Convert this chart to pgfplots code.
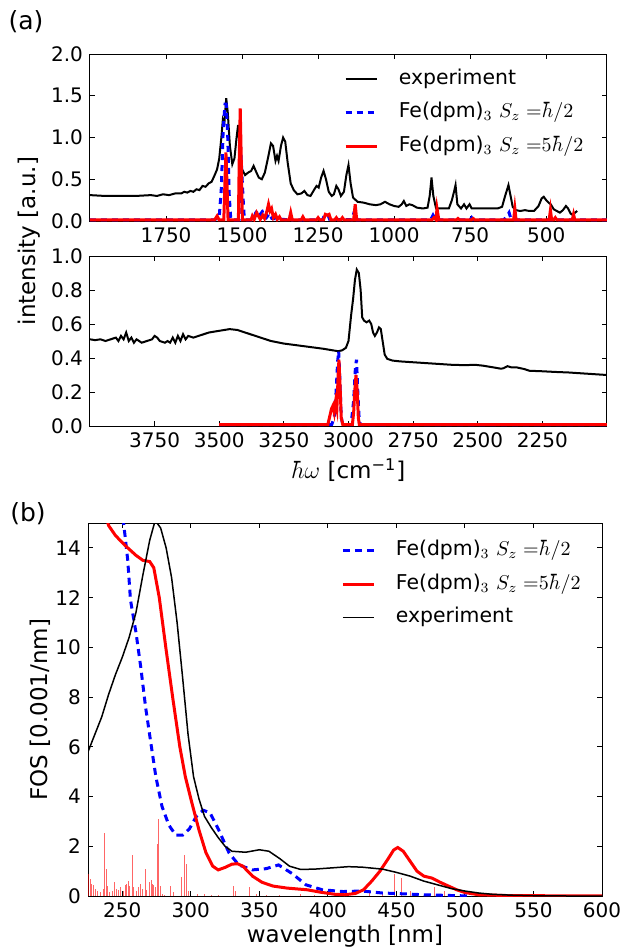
\documentclass[border=0pt]{standalone}
\usepackage{fontspec}
\setmainfont{DejaVu Sans}
\usepackage{pgfplots}
\pgfplotsset{compat=1.18}
\definecolor{mplblue}{rgb}{0,0,1}
\definecolor{mplred}{rgb}{1,0,0}
\pgfplotsset{
 myaxis/.style={
  scale only axis, anchor=north west,
  axis line style={black, line width=0.5pt},
  every tick/.style={black, line width=0.5pt},
  major tick length=2.5pt,
  tick align=inside, xtick pos=both, ytick pos=both,
  ticklabel style={font=\fontsize{10}{11.5}\selectfont},
  /pgf/number format/assume math mode=true,
  /pgf/number format/1000 sep={},
  legend cell align=left,
 },
 mylegend/.style={legend style={draw=none, fill=none, inner sep=0pt,
   font=\fontsize{10.2}{12}\selectfont,
   nodes={inner sep=0pt, text height=7.5pt, text depth=2.5pt},
   row sep=6.75pt,
   /tikz/every odd column/.append style={column sep=10.3pt}}},
 expA/.style={black, line width=1pt},
 blueA/.style={mplblue, line width=1.5pt, dash pattern=on 3pt off 2.5pt},
 redA/.style={mplred, line width=1.5pt},
}
\begin{document}
\begin{tikzpicture}
\useasboundingbox (0,0) rectangle (311.5pt,-474.5pt);
% ---------------- top panel ----------------
\begin{axis}[myaxis, mylegend, at={(45pt,-27pt)}, width=258.5pt, height=83.5pt,
  xmin=300, xmax=2000, x dir=reverse, ymin=0, ymax=2,
  xtick={500,750,1000,1250,1500,1750}, ytick={0,0.5,1,1.5,2},
  yticklabel style={/pgf/number format/.cd, fixed, fixed zerofill, precision=1},
  legend style={at={(0.491,0.91)}, anchor=north west},
  legend image code/.code={\draw[#1] (0pt,0pt) -- (15.5pt,0pt);}]
\addplot[expA] table {
2000 0.31
1950 0.30
1900 0.30
1850 0.30
1800 0.31
1780 0.30
1760 0.32
1740 0.31
1720 0.33
1700 0.33
1690 0.35
1680 0.34
1670 0.36
1660 0.35
1650 0.38
1640 0.37
1630 0.42
1620 0.41
1610 0.45
1600 0.47
1590 0.55
1582 0.62
1575 0.75
1568 1.0
1563 1.22
1558 1.18
1552 1.47
1547 1.3
1540 0.9
1532 0.68
1525 0.75
1518 1.0
1513 1.15
1507 0.85
1500 0.62
1490 0.55
1480 0.58
1470 0.6
1462 0.66
1455 0.6
1445 0.52
1435 0.5
1425 0.58
1415 0.75
1405 0.93
1398 0.9
1390 0.72
1385 0.78
1380 0.72
1372 0.9
1365 1.0
1358 0.95
1350 0.7
1340 0.45
1330 0.37
1318 0.32
1305 0.33
1295 0.36
1285 0.31
1275 0.3
1262 0.38
1255 0.42
1248 0.4
1240 0.52
1232 0.6
1224 0.5
1215 0.35
1205 0.3
1198 0.32
1190 0.42
1183 0.38
1175 0.3
1165 0.35
1157 0.55
1150 0.67
1143 0.45
1135 0.28
1120 0.23
1100 0.22
1080 0.2
1060 0.19
1045 0.2
1030 0.23
1015 0.2
1000 0.18
985 0.17
975 0.2
968 0.24
960 0.18
950 0.2
940 0.19
925 0.16
905 0.15
890 0.16
883 0.3
877 0.52
871 0.3
862 0.15
840 0.15
820 0.15
810 0.25
803 0.35
798 0.43
792 0.2
780 0.15
770 0.2
762 0.15
752 0.2
745 0.15
720 0.15
700 0.15
680 0.15
660 0.15
645 0.17
635 0.3
624 0.43
617 0.3
610 0.17
600 0.13
585 0.12
570 0.13
555 0.12
540 0.12
525 0.18
515 0.27
508 0.29
500 0.25
492 0.22
485 0.2
475 0.14
465 0.12
455 0.1
445 0.13
435 0.18
428 0.15
420 0.09
412 0.07
405 0.1
398 0.12
};
\addlegendentry{experiment}
\addplot[blueA] table {
2000 0.015
1590 0.015
1575 0.05
1568 0.4
1562 1.1
1556 1.4
1552 1.4
1547 1.0
1542 0.3
1537 0.015
1510 0.015
1505 0.9
1501 0.6
1497 0.3
1493 0.05
1488 0.015
1462 0.015
1455 0.1
1447 0.13
1440 0.08
1432 0.12
1425 0.13
1418 0.05
1410 0.09
1402 0.03
1350 0.015
1342 0.06
1335 0.015
1235 0.015
1228 0.08
1220 0.09
1212 0.02
1140 0.015
1130 0.12
1122 0.015
880 0.015
872 0.07
864 0.015
750 0.015
745 0.04
740 0.015
700 0.015
695 0.03
690 0.015
640 0.015
632 0.04
622 0.1
615 0.02
610 0.015
300 0.015
};
\addlegendentry{Fe(dpm)$_3$ $S_z\;{=}\hbar/2$}
\addplot[redA] table {
2000 0.015
1590 0.015
1582 0.06
1576 0.015
1560 0.015
1556 0.5
1553 0.82
1550 0.5
1546 0.015
1512 0.015
1509 0.8
1506 1.35
1503 0.8
1499 0.015
1470 0.015
1466 0.06
1460 0.02
1452 0.1
1446 0.06
1440 0.02
1432 0.07
1426 0.03
1418 0.12
1413 0.2
1408 0.12
1403 0.15
1397 0.04
1390 0.08
1384 0.02
1377 0.05
1372 0.015
1345 0.015
1340 0.1
1335 0.015
1305 0.015
1300 0.05
1295 0.015
1255 0.015
1250 0.04
1245 0.015
1232 0.015
1226 0.08
1220 0.07
1214 0.08
1208 0.015
1195 0.015
1190 0.04
1185 0.015
1175 0.015
1170 0.04
1165 0.015
1133 0.015
1128 0.2
1123 0.015
875 0.015
869 0.04
862 0.015
859 0.15
853 0.015
795 0.015
790 0.03
785 0.015
745 0.015
740 0.03
735 0.015
607 0.015
603 0.15
599 0.015
490 0.015
486 0.13
482 0.015
475 0.015
470 0.04
465 0.015
414 0.015
410 0.08
406 0.015
300 0.015
};
\addlegendentry{Fe(dpm)$_3$ $S_z\;{=}5\hbar/2$}
\end{axis}
% ---------------- middle panel ----------------
\begin{axis}[myaxis, at={(45pt,-128pt)}, width=258.5pt, height=85pt,
  xmin=2000, xmax=4000, x dir=reverse, ymin=0, ymax=1,
  xtick={2250,2500,2750,3000,3250,3500,3750}, ytick={0,0.2,0.4,0.6,0.8,1},
  yticklabel style={/pgf/number format/.cd, fixed, fixed zerofill, precision=1}]
\addplot[expA] table {
4000 0.51
3980 0.505
3960 0.51
3940 0.50
3920 0.51
3900 0.52
3890 0.50
3880 0.53
3870 0.51
3860 0.55
3850 0.50
3840 0.52
3830 0.49
3820 0.51
3800 0.49
3780 0.50
3760 0.51
3750 0.53
3740 0.52
3730 0.50
3710 0.49
3700 0.50
3690 0.49
3680 0.52
3670 0.49
3660 0.53
3650 0.50
3640 0.54
3630 0.51
3620 0.53
3600 0.52
3580 0.53
3560 0.54
3540 0.55
3500 0.56
3460 0.57
3430 0.565
3400 0.55
3370 0.535
3340 0.52
3300 0.50
3250 0.485
3200 0.475
3150 0.465
3100 0.455
3060 0.445
3040 0.44
3025 0.445
3010 0.46
3000 0.5
2990 0.65
2982 0.75
2975 0.86
2968 0.92
2960 0.9
2953 0.8
2947 0.64
2940 0.62
2930 0.61
2920 0.62
2912 0.6
2905 0.55
2898 0.53
2890 0.55
2882 0.58
2875 0.57
2868 0.5
2860 0.42
2850 0.395
2830 0.385
2800 0.38
2750 0.375
2700 0.37
2650 0.365
2600 0.36
2550 0.358
2510 0.36
2480 0.355
2440 0.345
2410 0.337
2400 0.34
2385 0.352
2370 0.345
2350 0.345
2320 0.335
2300 0.325
2250 0.322
2200 0.318
2150 0.315
2100 0.31
2050 0.305
2000 0.30
};
\addplot[blueA] table {
3500 0.008
3065 0.008
3055 0.05
3048 0.2
3042 0.38
3038 0.44
3034 0.3
3028 0.05
3022 0.008
2990 0.008
2980 0.15
2973 0.35
2969 0.39
2964 0.2
2958 0.02
2950 0.008
2000 0.008
};
\addplot[redA] table {
3500 0.008
3080 0.008
3072 0.06
3066 0.1
3060 0.12
3055 0.08
3050 0.14
3045 0.1
3040 0.3
3037 0.39
3033 0.25
3028 0.05
3022 0.008
2985 0.008
2980 0.08
2976 0.2
2971 0.3
2966 0.2
2962 0.05
2958 0.008
2000 0.008
};
\end{axis}
% ---------------- bottom panel ----------------
\begin{axis}[myaxis, mylegend, at={(44pt,-261.5pt)}, width=257pt, height=186.5pt,
  xmin=225, xmax=600, ymin=0, ymax=15,
  xtick={250,300,350,400,450,500,550,600}, ytick={0,2,4,6,8,10,12,14},
  legend style={at={(0.492,0.954)}, anchor=north west},
  legend image code/.code={\draw[#1] (0pt,0pt) -- (15.5pt,0pt);}]
\addplot[ycomb, mplred, opacity=0.6, line width=0.45pt, forget plot] table {
225.5 0.9
226.5 0.7
227.5 0.5
229 0.45
230.5 0.3
232 0.2
234 0.15
236 0.3
237.3 2.55
238.5 1.1
239.5 0.4
241 0.15
243 0.2
244.5 0.55
246 0.3
247.5 0.25
249 0.35
250.5 0.2
252 0.45
253 0.5
254.5 0.6
255.5 0.4
257.3 1.65
258.5 0.35
260 0.2
261.5 0.35
263 0.5
264.5 0.3
266.6 1.07
268 0.25
269.5 0.55
271 0.65
272 0.5
273 0.45
274.5 0.35
275.8 2.1
276.3 3.1
277.5 0.4
279 0.1
281 0.05
285.5 0.4
287 0.15
293.5 0.75
295.5 1.65
297 1.3
298.5 0.2
305 0.08
310 0.1
315 0.05
320 0.05
331 0.4
332.5 0.2
342.7 0.37
348 0.1
355 0.05
365 0.05
380 0.08
390 0.05
430 0.15
440 0.1
448.5 0.9
454 0.72
460 0.2
477.5 0.38
485 0.2
};
\addplot[mplblue, line width=1.5pt, dash pattern=on 3.5pt off 2.5pt] table {
250.5 15.2
252 14.5
254 13.5
256 11.9
260 10.6
263.5 9.2
267 7.6
271 6.1
274.5 4.8
279 3.6
284 2.85
289 2.45
294 2.45
299 2.7
304 3.2
309 3.45
314 3.35
320 2.7
328 1.72
335 1.25
345 1.05
355 1.1
364 1.25
374 0.9
384 0.45
396 0.25
411 0.18
425 0.2
440 0.12
450 0.1
470 0.05
490 0.02
505 0.0
};
\addlegendentry{Fe(dpm)$_3$ $S_z\;{=}\hbar/2$}
\addplot[redA] table {
238 15.3
240 14.9
245 14.5
252 14.1
260 13.7
265 13.5
270 13.45
273 13.2
277 12.0
282 9.9
287 7.9
292 6.0
296 4.8
301 3.7
306 2.65
311 1.75
316 1.2
320 1.05
325 1.15
330 1.28
334 1.3
338 1.2
345 0.8
352 0.55
360 0.4
370 0.32
385 0.25
395 0.15
405 0.07
412 0.05
420 0.1
426 0.25
432 0.6
438 1.0
444 1.5
448 1.85
451 1.95
455 1.8
460 1.4
465 1.0
470 0.8
476 0.72
482 0.55
488 0.4
494 0.25
500 0.14
510 0.05
530 0.02
560 0.01
600 0.01
};
\addlegendentry{Fe(dpm)$_3$ $S_z\;{=}5\hbar/2$}
\addplot[black, line width=0.75pt] table {
225 5.8
230 6.5
235 7.2
240 8.1
245 8.9
250 9.6
255 10.4
260 11.4
265 12.9
270 14.3
274 15.1
278 14.8
282 14.0
286 12.8
290 11.0
294 8.8
298 6.5
302 4.8
306 3.9
310 3.2
315 2.75
320 2.35
325 2.0
330 1.8
340 1.76
350 1.86
357 1.8
365 1.5
372 1.2
380 1.07
390 1.08
400 1.12
415 1.18
425 1.16
440 1.08
450 0.95
460 0.8
470 0.6
480 0.45
490 0.3
500 0.2
510 0.12
520 0.07
535 0.03
550 0.01
575 0.0
600 0.0
};
\addlegendentry{experiment}
\end{axis}
% ---------------- labels ----------------
\node[font=\fontsize{12.5}{14}\selectfont] at (13pt,-11pt) {(a)};
\node[font=\fontsize{12.5}{14}\selectfont] at (14pt,-257pt) {(b)};
\node[rotate=90, font=\fontsize{11.5}{13}\selectfont] at (14.5pt,-120.5pt) {intensity [a.u.]};
\node[font=\fontsize{11.5}{13}\selectfont] at (174.25pt,-235pt) {$\hbar\omega$ [cm\textsuperscript{−1}]};
\node[rotate=90, font=\fontsize{11.5}{13}\selectfont] at (20pt,-354.75pt) {FOS [0.001/nm]};
\node[font=\fontsize{11.5}{13}\selectfont] at (172.5pt,-468pt) {wavelength [nm]};
\end{tikzpicture}
\end{document}
